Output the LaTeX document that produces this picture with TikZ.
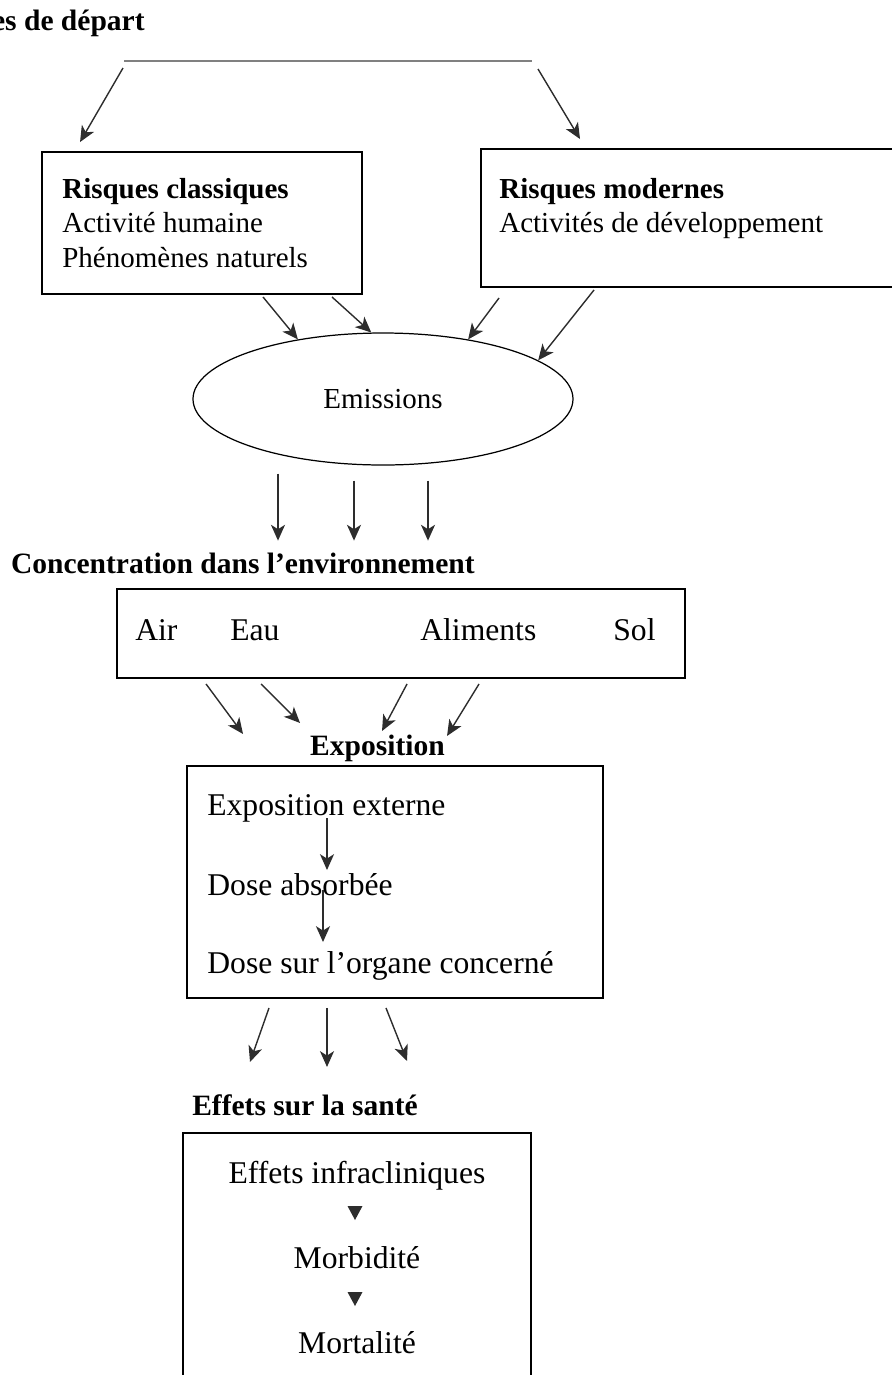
\documentclass[tikz,border=0pt]{standalone}
\usepackage{fontspec}
\setmainfont{Liberation Serif}
\usetikzlibrary{positioning,shapes.geometric,arrows.meta}
\tikzset{%
  boite/.style={draw,line width=1.1pt,rectangle,inner sep=0pt},
  ligne/.style={inner sep=0pt,anchor=base west,font=\fontsize{16.5}{20}\selectfont},
  grand/.style={inner sep=0pt,anchor=base west,font=\fontsize{18}{22}\selectfont},
  titre/.style={inner sep=0pt,anchor=base,font=\fontsize{16.8}{20}\selectfont\bfseries},
  fleche/.style={->,>={Stealth[length=9pt,width=8pt,inset=2.5pt]},line width=0.8pt,color=gray!35!black}
}
\begin{document}
\begin{tikzpicture}

        \useasboundingbox (0,0) rectangle (17.84,-27.5); % Frame
        \clip (0,0) rectangle (17.84,-27.5);

        % Starting data
        \node[titre,anchor=base east] (depart) at (2.9,-0.6) {Données de départ};
        \coordinate (barG) at (2.48,-1.22);
        \coordinate (barD) at (10.64,-1.22);
        \draw[line width=0.9pt,color=gray] (barG) -- (barD);

        % Risks
        \node[boite,minimum width=6.4cm,minimum height=2.84cm] (classique) at (4.04,-4.46) {};
        \node[ligne,font=\fontsize{16.5}{20}\selectfont\bfseries] (rc) at (1.24,-3.96) {Risques classiques};
        \node[ligne] (hum) at (1.24,-4.64) {Activité humaine};
        \node[ligne] (nat) at (1.24,-5.34) {Phénomènes naturels};

        \node[boite,minimum width=8.88cm,minimum height=2.76cm] (moderne) at (14.06,-4.36) {};
        \node[ligne,font=\fontsize{16.5}{20}\selectfont\bfseries] (rm) at (9.98,-3.96) {Risques modernes};
        \node[ligne] (dev) at (9.98,-4.64) {Activités de développement};

        \draw[fleche] ([xshift=-0.02cm,yshift=-0.14cm]barG) -- ([xshift=0.78cm,yshift=0.18cm]classique.north west);
        \draw[fleche] ([xshift=0.12cm,yshift=-0.16cm]barD) -- ([xshift=2cm,yshift=0.18cm]moderne.north west);

        % Emissions
        \node[draw,ellipse,line width=0.7pt,minimum width=7.6cm,minimum height=2.64cm,inner sep=0pt,
              font=\fontsize{16.5}{20}\selectfont] (emis) at (7.66,-7.98) {Emissions};

        \foreach \dx/\ang in {1.22/145, 2.6/100}
            \draw[fleche] ([xshift=\dx cm,yshift=-0.04cm]classique.south) -- (emis.\ang);
        \foreach \dx/\dy/\ang in {0.38/-0.2/35, 2.28/-0.04/14}
            \draw[fleche] ([xshift=\dx cm,yshift=\dy cm]moderne.south west) -- (emis.\ang);

        \foreach \dx/\dy in {-2.1/-0.16, -0.58/-0.3, 0.9/-0.3}
            \draw[fleche] ([xshift=\dx cm,yshift=\dy cm]emis.south) -- ([xshift=\dx cm,yshift=-1.5cm]emis.south);

        % Concentration
        \node[titre,anchor=base east] (concent) at (9.5,-11.46) {Concentration dans l’environnement};
        \node[boite,minimum width=11.36cm,minimum height=1.78cm] (milieux) at (8.02,-12.67) {};
        \node[grand] (air) at (2.7,-12.8) {Air};
        \node[grand] (eau) at (4.6,-12.8) {Eau};
        \node[grand] (alim) at (8.4,-12.8) {Aliments};
        \node[grand] (sol) at (12.26,-12.8) {Sol};

        \foreach \xa/\xb/\yb in {1.8/2.54/-1.1, 2.9/3.68/-0.88, 5.82/5.32/-1.04, 7.26/6.62/-1.14}
            \draw[fleche] ([xshift=\xa cm,yshift=-0.1cm]milieux.south west) -- ([xshift=\xb cm,yshift=\yb cm]milieux.south west);

        % Exposition
        \node[titre] (expolab) at (7.55,-15.1) {Exposition};
        \node[boite,minimum width=8.32cm,minimum height=4.64cm] (expo) at (7.9,-17.64) {};
        \node[grand] (ext) at (4.14,-16.3) {Exposition externe};
        \node[grand] (absorb) at (4.14,-17.9) {Dose absorbée};
        \node[grand] (organe) at (4.14,-19.46) {Dose sur l’organe concerné};

        \draw[fleche] ([xshift=2.4cm,yshift=-0.06cm]ext.base west) -- ([xshift=2.4cm,yshift=0.5cm]absorb.base west);
        \draw[fleche] ([xshift=2.32cm,yshift=0.1cm]absorb.base west) -- ([xshift=2.32cm,yshift=0.62cm]organe.base west);

        \foreach \xa/\xb/\yb in {-2.52/-2.9/-1.26, -1.36/-1.36/-1.36, -0.18/0.24/-1.24}
            \draw[fleche] ([xshift=\xa cm,yshift=-0.18cm]expo.south) -- ([xshift=\xb cm,yshift=\yb cm]expo.south);

        % Health effects
        \node[titre] (effetlab) at (6.1,-22.3) {Effets sur la santé};
        \node[boite,minimum width=6.96cm,minimum height=5.54cm] (effets) at (7.14,-25.43) {};
        \node[grand,anchor=base] (infra) at (7.14,-23.66) {Effets infracliniques};
        \node[grand,anchor=base] (morbi) at (7.14,-25.36) {Morbidité};
        \node[grand,anchor=base] (morta) at (7.14,-27.06) {Mortalité};

        %%%%Small triangles between the lines
        \foreach \n/\dy in {infra/-0.46, morbi/-0.48}
            {
            \fill[gray!35!black] ([xshift=-0.19cm,yshift=\dy cm]\n.base) -- ++(0.3,0) -- ++(-0.15,-0.28) -- cycle;
            }

\end{tikzpicture}
\end{document}
